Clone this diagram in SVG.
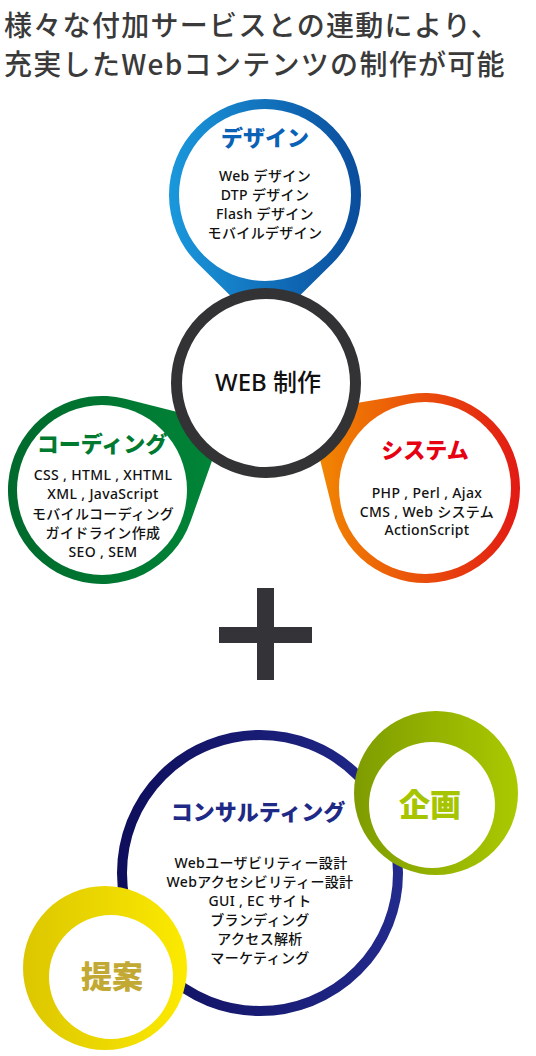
<svg xmlns="http://www.w3.org/2000/svg" width="536" height="1056" viewBox="0 0 536 1056">
<defs>
<linearGradient id="gBlue" x1="0" y1="0" x2="1" y2="0"><stop offset="0" stop-color="#1a98dc"/><stop offset="1" stop-color="#0a4c9c"/></linearGradient>
<linearGradient id="gGreen" x1="0" y1="0" x2="1" y2="0"><stop offset="0" stop-color="#006a2c"/><stop offset="1" stop-color="#008638"/></linearGradient>
<linearGradient id="gOrange" x1="0" y1="0" x2="1" y2="0"><stop offset="0" stop-color="#f28c00"/><stop offset="1" stop-color="#e21a14"/></linearGradient>
<linearGradient id="gNavy" x1="0" y1="0" x2="1" y2="0"><stop offset="0" stop-color="#0e0e5c"/><stop offset="1" stop-color="#222a8c"/></linearGradient>
<linearGradient id="gLime" x1="0" y1="0" x2="1" y2="0"><stop offset="0" stop-color="#7e9c00"/><stop offset="1" stop-color="#abc900"/></linearGradient>
<linearGradient id="gYellow" x1="0" y1="0" x2="1" y2="0"><stop offset="0" stop-color="#dcc600"/><stop offset="1" stop-color="#fcea00"/></linearGradient>
</defs>
<style>
.title{font-family:"Noto Sans CJK JP","Noto Sans",sans-serif;font-size:28px;font-weight:500;letter-spacing:1.3px;fill:#3a3a3a;}
.head{font-family:"Noto Sans CJK JP",sans-serif;font-weight:900;font-size:22px;text-anchor:middle;}
.body{font-family:"Noto Sans","Noto Sans CJK JP",sans-serif;font-size:14px;font-weight:500;letter-spacing:0.35px;fill:#111;text-anchor:middle;}
.big{font-family:"Noto Sans CJK JP",sans-serif;font-weight:900;font-size:31px;text-anchor:middle;}
.inner{fill:#fff;}
</style>
<rect width="536" height="1056" fill="#fff"/>
<g id="title">
<text class="title" x="4" y="36">様々な付加サービスとの連動により、</text>
<text class="title" x="4" y="75">充実したWebコンテンツの制作が可能</text>
</g>
<g id="connectors"/>
<g id="design">
<path d="M265 330 L332.5 263.2 A96 96 0 1 0 197.5 263.2 Z" fill="url(#gBlue)"/>
<circle class="inner" cx="265" cy="195" r="86"/>
<text class="head" x="265" y="146" fill="#0a62b6">デザイン</text>
<text class="body" x="265" y="181">Web デザイン</text>
<text class="body" x="265" y="200">DTP デザイン</text>
<text class="body" x="265" y="219">Flash デザイン</text>
<text class="body" x="265" y="238">モバイルデザイン</text>
</g>
<g id="coding">
<path d="M225 424 L190.6 521.3 A94 94 0 1 1 124.9 398.8 Z" fill="url(#gGreen)"/>
<circle class="inner" cx="102" cy="490" r="85"/>
<text class="head" x="102" y="452" fill="#007a30">コーディング</text>
<text class="body" x="103" y="480">CSS , HTML , XHTML</text>
<text class="body" x="103" y="499">XML , JavaScript</text>
<text class="body" x="103" y="519">モバイルコーディング</text>
<text class="body" x="103" y="538">ガイドライン作成</text>
<text class="body" x="103" y="557">SEO , SEM</text>
</g>
<g id="system">
<path d="M308 411 L409.6 394.3 A95 95 0 1 1 332.8 510.9 Z" fill="url(#gOrange)"/>
<circle class="inner" cx="425" cy="488" r="86"/>
<text class="head" x="425" y="458" fill="#e60012">システム</text>
<text class="body" x="427" y="498">PHP , Perl , Ajax</text>
<text class="body" x="427" y="517">CMS , Web システム</text>
<text class="body" x="427" y="535">ActionScript</text>
</g>
<g id="web">
<circle cx="266" cy="383" r="89.5" fill="#fff" stroke="#333336" stroke-width="11"/>
<text x="268" y="391" font-family="Noto Sans, Noto Sans CJK JP, sans-serif" font-size="24" font-weight="500" text-anchor="middle" fill="#111">WEB 制作</text>
</g>
<g id="plus" fill="#333338">
<rect x="257" y="588" width="17" height="92"/>
<rect x="219" y="627" width="93" height="16"/>
</g>
<g id="consulting">
<circle cx="260" cy="873" r="138" fill="none" stroke="url(#gNavy)" stroke-width="10"/>
<text class="head" x="258" y="820" fill="#1e2a86">コンサルティング</text>
<text class="body" x="261" y="868">Webユーザビリティー設計</text>
<text class="body" x="260" y="887">Webアクセシビリティー設計</text>
<text class="body" x="260" y="906">GUI , EC サイト</text>
<text class="body" x="260" y="925">ブランディング</text>
<text class="body" x="260" y="944">アクセス解析</text>
<text class="body" x="260" y="963">マーケティング</text>
</g>
<g id="kikaku">
<circle cx="436" cy="793" r="82" fill="url(#gLime)"/>
<circle class="inner" cx="432" cy="805" r="63"/>
<text class="big" x="430" y="816" fill="#a6c400">企画</text>
</g>
<g id="teian">
<circle cx="105" cy="968" r="82" fill="url(#gYellow)"/>
<circle class="inner" cx="111" cy="977" r="62"/>
<text class="big" x="112" y="988" fill="#c2a934">提案</text>
</g>
</svg>
